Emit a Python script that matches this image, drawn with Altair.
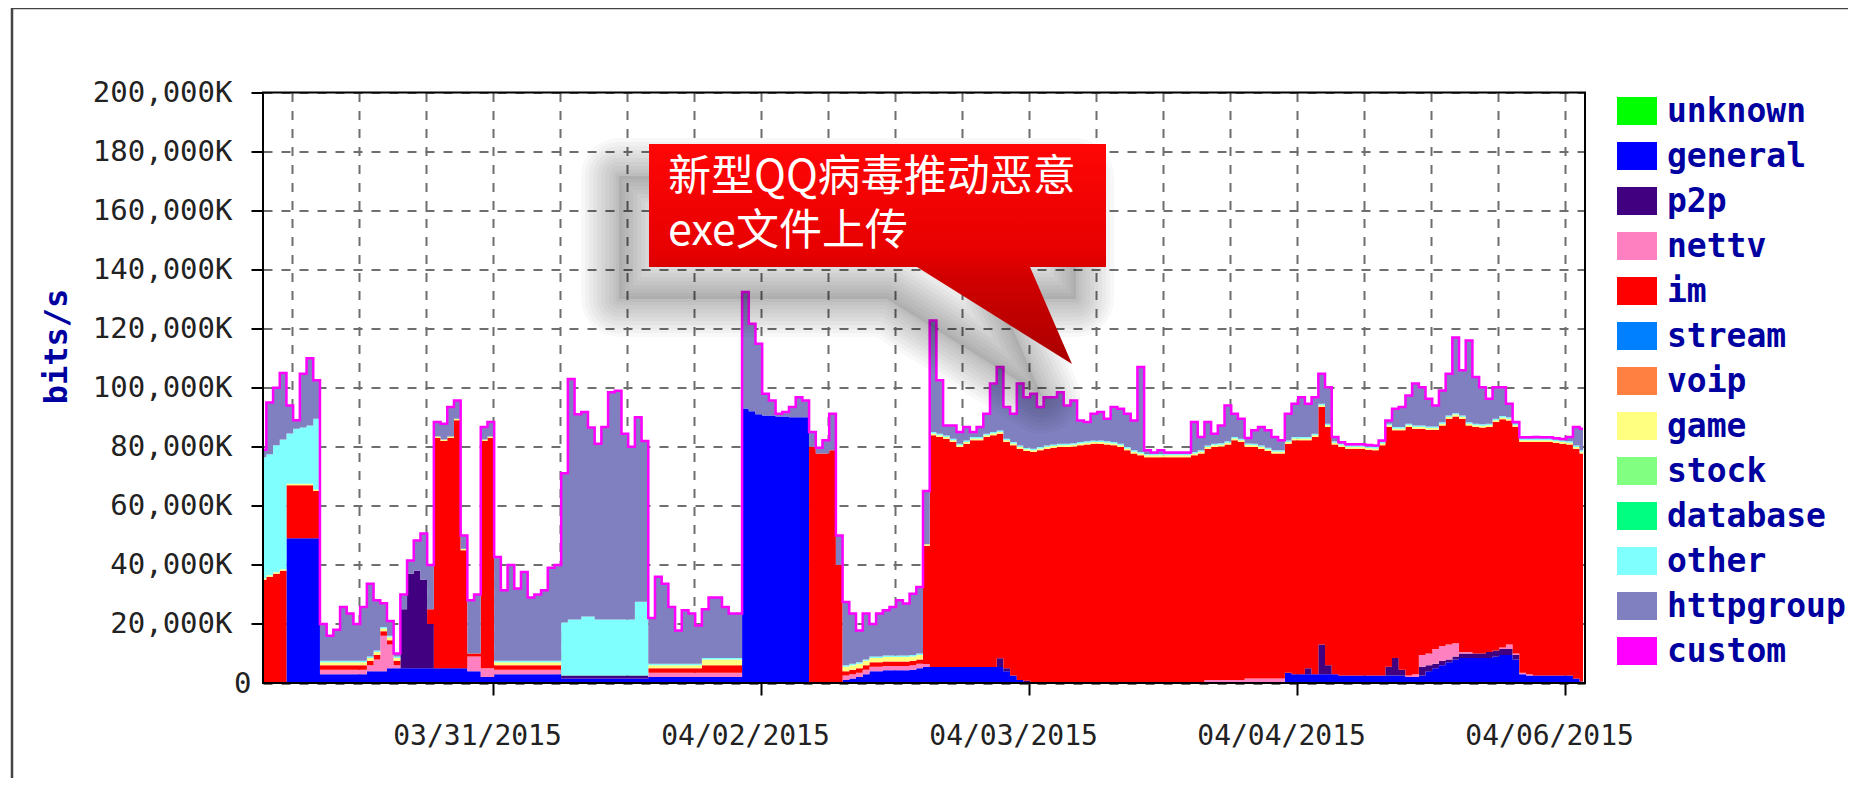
import altair as alt
import pandas as pd

# ---------------------------------------------------------------------------
# Data. Values are in units of 1,000K bits/s
# (the axis label "20,000K" corresponds to 20). One sample every 0.1 of a
# vertical-grid interval, 198 samples across the plot.
# ---------------------------------------------------------------------------
N_SAMPLES = 198
SAMPLE_STEP = 0.1

series_names = ["unknown", "general", "p2p", "nettv", "im", "stream", "voip",
                "game", "stock", "database", "other", "httpgroup", "custom"]
series_colors = ["#00ff00", "#0000ff", "#40007f", "#ff80c0", "#ff0000", "#0080ff",
                 "#ff8040", "#ffff80", "#80ff80", "#00ff80", "#80ffff", "#8080c0",
                 "#ff00ff"]

general = [
    0, 0, 0, 0, 49, 49, 49, 49, 49, 3,
    3, 3, 3, 3, 3, 3, 4, 4, 4, 5,
    5, 5, 5, 5, 5, 5, 5, 5, 5, 5,
    5, 4, 4, 2, 2, 3, 3, 3, 3, 3,
    3, 3, 3, 3, 3, 1.5, 1.5, 1.5, 1.5, 1.5,
    1.5, 1.5, 1.5, 1.5, 1.5, 1.5, 1.5, 1.5, 2, 2,
    2, 2, 2, 2, 2, 2, 2, 2, 2, 2,
    2, 2, 93, 92, 91, 90.6, 90.6, 90.3, 90.3, 90,
    90, 90, 0, 0, 0, 0, 0, 1, 1.5, 2,
    3, 4, 4, 4.3, 4.3, 4.3, 4.3, 4.5, 5, 5.4,
    5.4, 5.4, 5.4, 5.4, 5.4, 5.4, 5.4, 5.4, 5.4, 5.4,
    5.4, 4, 2.5, 1, 0.3, 0, 0, 0, 0, 0,
    0, 0, 0, 0, 0, 0, 0, 0, 0, 0,
    0, 0, 0, 0, 0, 0, 0, 0, 0, 0,
    0, 0, 0, 0, 0, 0, 0, 0, 0, 0,
    0, 0, 0, 3.5, 3, 3, 3, 3, 3, 3,
    3, 2.5, 2.5, 2.5, 2.5, 2.5, 2.5, 2.5, 2.5, 2.5,
    2.5, 2, 2, 2.5, 4, 5, 6, 7, 8, 8.5,
    8.5, 8.5, 8.5, 8.5, 9, 9.5, 9.5, 8, 3, 2.5,
    2.5, 2.5, 2.5, 2.5, 2.5, 2.5, 1.5, 0.5,
]

p2p = [
    0, 0, 0, 0, 0, 0, 0, 0, 0, 0,
    0, 0, 0, 0, 0, 0, 0, 0, 0, 0,
    0, 20, 32, 33, 30, 15, 0, 0, 0, 0,
    0, 0, 0, 0, 0, 0, 0, 0, 0, 0,
    0, 0, 0, 0, 0, 1, 1, 1, 1, 1,
    1, 1, 1, 1, 1, 1, 1, 1, 0, 0,
    0, 0, 0, 0, 0, 0, 0, 0, 0, 0,
    0, 0, 0, 0, 0, 0, 0, 0, 0, 0,
    0, 0, 0, 0, 0, 0, 0, 0, 0, 0,
    0, 0, 0, 0, 0, 0, 0, 0, 0, 0,
    0, 0, 0, 0, 0, 0, 0, 0, 0, 0,
    3, 1, 0, 0, 0.5, 0, 0, 0, 0, 0,
    0, 0, 0, 0, 0, 0, 0, 0, 0, 0,
    0, 0, 0, 0, 0, 0, 0, 0, 0, 0,
    0, 0, 0, 0, 0, 0, 0, 0, 0, 0,
    0, 0, 0, 0, 0, 0, 2, 0, 10, 3,
    0, 0, 0, 0, 0, 0, 0, 0, 3, 6,
    2, 0, 0, 3, 2, 1.5, 1.5, 1, 1, 1.5,
    1.5, 1.5, 1.5, 2, 2, 2, 2, 1.5, 0, 0,
    0, 0, 0, 0, 0, 0, 0, 0,
]

nettv = [
    0, 0, 0, 0, 0, 0, 0, 0, 0, 1.5,
    1.5, 1.5, 1.5, 1.5, 1.5, 1.5, 2, 4, 12, 8,
    1, 0, 0, 0, 0, 0, 0, 0, 0, 0,
    0, 5, 5, 3, 3, 1.5, 1.5, 1.5, 1.5, 1.5,
    1.5, 1.5, 1.5, 1.5, 1.5, 0, 0, 0, 0, 0,
    0, 0, 0, 0, 0, 0, 0, 0, 1.5, 1.5,
    1.5, 1.5, 1.5, 1.5, 1.5, 1.5, 1.5, 1.5, 1.5, 1.5,
    1.5, 1.5, 0, 0, 0, 0, 0, 0, 0, 0,
    0, 0, 0, 0, 0, 0, 0, 1.5, 1.5, 1.5,
    1.5, 1.5, 1.5, 1.5, 1.5, 1.5, 1.5, 1.5, 1.5, 1,
    0, 0, 0, 0, 0, 0, 0, 0, 0, 0,
    0, 0, 0, 0, 0, 0, 0, 0, 0, 0,
    0, 0, 0, 0, 0, 0, 0, 0, 0, 0,
    0, 0, 0, 0, 0, 0, 0, 0, 0, 0,
    0, 1, 1, 1, 1, 1, 1, 1.5, 1.5, 1.5,
    1.5, 1.5, 1.5, 0, 0, 0, 0, 0, 0, 0,
    0, 0, 0, 0, 0, 0, 0, 0, 0, 0,
    0, 0.5, 1, 4, 4, 5, 5, 5, 4.5, 0.5,
    0.5, 0, 0, 0, 0, 0.5, 1.5, 0.5, 0.5, 0.5,
    0, 0, 0, 0, 0, 0, 0, 0,
]

im = [
    35, 36, 37, 38, 18, 18, 18, 18, 16, 1.5,
    1.5, 1.5, 1.5, 1.5, 1.5, 1.5, 1.5, 1.5, 1.5, 1.5,
    1.5, 0, 0, 0, 0, 5, 78, 77, 78, 84,
    40, 1, 1, 77, 78, 1.5, 1.5, 1.5, 1.5, 1.5,
    1.5, 1.5, 1.5, 1.5, 1.5, 0, 0, 0, 0, 0,
    0, 0, 0, 0, 0, 0, 0, 0, 1.5, 1.5,
    1.5, 1.5, 1.5, 1.5, 1.5, 1.5, 2.5, 2.5, 2.5, 2.5,
    2.5, 2.5, 0, 0, 0, 0, 0, 0, 0, 0,
    0, 0, 80, 77.7, 77.7, 78.8, 40, 1.5, 1.5, 1.5,
    1.5, 1.5, 1.5, 1.5, 1.5, 1.5, 1.5, 1.5, 1.5, 40,
    78.5, 77.9, 77.3, 76.2, 74.5, 75.6, 76.8, 76.8, 77.9, 78.5,
    76, 76.6, 78, 78.3, 77.8, 78.2, 78.8, 79.3, 79.7, 79.9,
    79.9, 80.1, 80.5, 80.8, 81, 81, 80.8, 80.5, 79.9, 78.8,
    77.7, 77.1, 76.5, 76.5, 76.5, 76.5, 76.5, 76.5, 76.5, 77.1,
    77.7, 78.3, 78.9, 79.1, 79.8, 81.2, 80.6, 78.5, 78.4, 77.8,
    77.1, 76.2, 76.2, 77.5, 79.2, 79.2, 77.2, 80.3, 80.5, 80.7,
    77.8, 77.4, 76.8, 76.8, 76.8, 76.5, 76.3, 78, 81.2, 77.1,
    81.1, 84.2, 83.1, 76.6, 75.8, 74.3, 74.7, 76.5, 76.8, 79,
    76.7, 76.7, 76.5, 76.2, 77.4, 77.3, 75.9, 76.7, 78.1, 78.6,
    79.1, 79.1, 79.1, 78.8, 78.5, 78.3, 77.8, 77.2,
]

game = [
    0.5, 0.5, 0.5, 0.5, 0.5, 0.5, 0.5, 0.5, 0.5, 1,
    1, 1, 1, 1, 1, 1, 1, 1, 1, 1,
    1, 0, 0, 0, 0, 0, 0.5, 0.5, 0.5, 0.5,
    0.5, 0, 0, 0.5, 0.5, 1, 1, 1, 1, 1,
    1, 1, 1, 1, 1, 0, 0, 0, 0, 0,
    0, 0, 0, 0, 0, 0, 0, 0, 1, 1,
    1, 1, 1, 1, 1, 1, 2, 2, 2, 2,
    2, 2, 0, 0, 0, 0, 0, 0, 0, 0,
    0, 0, 0, 0, 0, 0, 0, 1.5, 1.5, 1.5,
    1.5, 1.5, 1.5, 1.5, 1.5, 1.5, 1.5, 1.5, 1.5, 0.6,
    0.6, 0.6, 0.6, 0.6, 0.6, 0.6, 0.6, 0.6, 0.6, 0.6,
    0.6, 0.6, 0.6, 0.6, 0.6, 0.6, 0.6, 0.6, 0.6, 0.6,
    0.6, 0.6, 0.6, 0.6, 0.6, 0.6, 0.6, 0.6, 0.6, 0.6,
    0.6, 0.6, 0.6, 0.6, 0.6, 0.6, 0.6, 0.6, 0.6, 0.6,
    0.6, 0.6, 0.6, 0.6, 0.6, 0.6, 0.6, 0.6, 0.6, 0.6,
    0.6, 0.6, 0.6, 0.6, 0.6, 0.6, 0.6, 0.6, 0.6, 0.6,
    0.6, 0.6, 0.6, 0.6, 0.6, 0.6, 0.6, 0.6, 0.6, 0.6,
    0.6, 0.6, 0.6, 0.6, 0.6, 0.6, 0.6, 0.6, 0.6, 0.6,
    0.6, 0.6, 0.6, 0.6, 0.6, 0.6, 0.6, 0.6, 0.6, 0.6,
    0.6, 0.6, 0.6, 0.6, 0.6, 0.6, 0.6, 0.6,
]

other = [
    41, 41, 43, 44, 17, 18.6, 19, 19.7, 24, 0.5,
    0.5, 0.5, 0.5, 0.5, 0.5, 0.5, 0.5, 0.5, 0.5, 0.5,
    0.5, 0, 0, 0, 0, 0, 0, 0, 0, 0,
    0, 0, 0, 0, 0, 0.5, 0.5, 0.5, 0.5, 0.5,
    0.5, 0.5, 0.5, 0.5, 0.5, 18, 19, 19, 20, 20,
    19, 19, 19, 19, 19, 19, 25, 25, 0.5, 0.5,
    0.5, 0.5, 0.5, 0.5, 0.5, 0.5, 0.5, 0.5, 0.5, 0.5,
    0.5, 0.5, 0, 0, 0, 0, 0, 0, 0, 0,
    0, 0, 0, 0, 0, 0, 0, 0.5, 0.5, 0.5,
    0.5, 0.5, 0.5, 0.5, 0.5, 0.5, 0.5, 0.5, 0.5, 0,
    0.5, 0.5, 0.5, 0.5, 0.5, 0.5, 0.5, 0.5, 0.5, 0.5,
    0.5, 0.5, 0.5, 0.5, 0.5, 0.5, 0.5, 0.5, 0.5, 0.5,
    0.5, 0.5, 0.5, 0.5, 0.5, 0.5, 0.5, 0.5, 0.5, 0.5,
    0.5, 0.5, 0.5, 0.5, 0.5, 0.5, 0.5, 0.5, 0.5, 0.5,
    0.5, 0.5, 0.5, 0.5, 0.5, 0.5, 0.5, 0.5, 0.5, 0.5,
    0.5, 0.5, 0.5, 0.5, 0.5, 0.5, 0.5, 0.5, 0.5, 0.5,
    0.5, 0.5, 0.5, 0.5, 0.5, 0.5, 0.5, 0.5, 0.5, 0.5,
    0.5, 0.5, 0.5, 0.5, 0.5, 0.5, 0.5, 0.5, 0.5, 0.5,
    0.5, 0.5, 0.5, 0.5, 0.5, 0.5, 0.5, 0.5, 0.5, 0.5,
    0.5, 0.5, 0.5, 0.5, 0.5, 0.5, 0.5, 0.5,
]

httpgroup = [
    2.5, 17.5, 19.5, 22.5, 9.5, 2.9, 18.2, 22.8, 13, 12.5,
    8.5, 10.5, 18.2, 16, 12.5, 18.2, 24.6, 17, 8, 5,
    1, 5, 4.5, 10.3, 15.6, 15, 4.9, 5.3, 10, 6.2,
    4.5, 18, 20, 4.2, 4.9, 35.2, 23.9, 32.5, 24.5, 30.1,
    21.5, 22.5, 23.9, 31.5, 32.5, 50.5, 81.5, 69.5, 69.3, 64,
    59.5, 65.2, 77, 77.5, 62.9, 58.5, 62.5, 54.5, 15.5, 29.5,
    27.1, 19.2, 11.3, 18.1, 17, 13, 16.5, 20.5, 20.5, 17.2,
    15, 15, 39.4, 29.7, 23.9, 7.4, 5.1, 0.9, 1.5, 3.5,
    6.8, 5.7, 5, 2, 4.5, 12.4, 10, 21.4, 17, 10.8,
    15.5, 11, 14.5, 15.3, 16.4, 18.7, 17.6, 20.7, 22.5, 18,
    37.8, 18.1, 3.4, 4.5, 4, 4.6, 1.7, 3.4, 6.8, 16.4,
    21.5, 10.8, 9.6, 21, 17.1, 18.7, 13.6, 16.4, 16, 17.5,
    13, 14.5, 7.3, 6.5, 9.1, 9.7, 7.6, 11.9, 11.9, 11.3,
    10.1, 28.8, 1.2, 0.5, 1.2, 0.5, 0.5, 0.5, 0.5, 10.2,
    4.5, 8, 3.4, 6, 12.1, 7.9, 6.8, 1.9, 4.6, 6.3,
    5.9, 4.5, 3.4, 9.1, 11.3, 13.5, 11.3, 12.4, 10.1, 12.4,
    1.4, 0.5, 0.5, 0.5, 0.5, 0.5, 0.5, 0.5, 1.1, 6.2,
    6.8, 9.6, 14.2, 13, 9.4, 7.1, 10.8, 14.1, 25.6, 15.3,
    27.7, 15.8, 12.6, 8.5, 10.7, 9.8, 4.6, 0.6, 0.5, 0.5,
    0.6, 0.5, 0.5, 0.5, 0.5, 1.4, 6.3, 7.3,
]

# axis text
y_tick_values = [0, 20, 40, 60, 80, 100, 120, 140, 160, 180, 200]
x_grid_first = 0.433          # first vertical grid line (in grid units)
x_grid_count = 20
date_tick_index = [3, 7, 11, 15, 19]
date_labels = ["03/31/2015", "04/02/2015", "04/03/2015", "04/04/2015", "04/06/2015"]
x_domain_max = 19.73

callout_lines = ["新型QQ病毒推动恶意", "exe文件上传"]

# ---------------------------------------------------------------------------
present = {"general": general, "p2p": p2p, "nettv": nettv, "im": im,
           "game": game, "other": other, "httpgroup": httpgroup}
for _n, _v in present.items():
    if len(_v) != N_SAMPLES:
        raise ValueError(f"{_n} has {len(_v)} values")

rows = []
for name, vals in present.items():
    k = series_names.index(name)
    for i, v in enumerate(vals):
        rows.append({"x": round(i * SAMPLE_STEP, 3), "v": v, "s": name, "k": k})
df = pd.DataFrame(rows)

grid_x = [round(x_grid_first + k, 3) for k in range(x_grid_count)]
kexpr = f"round(datum.value - {x_grid_first})"
label_expr = "''"
for idx, lab in reversed(list(zip(date_tick_index, date_labels))):
    label_expr = f"{kexpr} == {idx} ? '{lab}' : ({label_expr})"
tick_test = f"indexof({date_tick_index}, {kexpr}) >= 0"

GRID_COLOR = "#6e6e6e"
AXIS_FONT = "DejaVu Sans Mono"

x_axis = alt.Axis(
    values=grid_x, title=None, grid=True, gridDash=[9, 9], gridColor=GRID_COLOR,
    gridWidth=2, domain=False, tickSize=12, tickWidth=2, tickColor="#000",
    tickOpacity={"condition": {"test": tick_test, "value": 1}, "value": 0},
    labelExpr=label_expr, labelFont=AXIS_FONT, labelFontSize=28, labelColor="#222",
    labelPadding=27, labelOffset=-16, labelOverlap=False, labelFlush=False,
)
y_axis = alt.Axis(
    values=y_tick_values, title="bits/s", grid=True, gridDash=[9, 9],
    gridColor=GRID_COLOR, gridWidth=2, domain=False, tickSize=12, tickWidth=2,
    tickColor="#000",
    tickOpacity={"condition": {"test": "datum.value == 0", "value": 0}, "value": 1},
    labelExpr="datum.value == 0 ? '0' : format(datum.value * 1000, ',') + 'K'",
    labelFont=AXIS_FONT, labelFontSize=29, labelColor="#222",
    labelPadding={"condition": {"test": "datum.value == 0", "value": 0}, "value": 19},
    titleFont=AXIS_FONT, titleFontSize=32, titleFontWeight="bold", titleColor="#0000a0",
    titleX=-207, titleY=253.5, titleAngle=270, titleAlign="center",
    titleBaseline="middle",
)

x_enc = alt.X("x:Q", scale=alt.Scale(domain=[0, x_domain_max], nice=False, zero=False),
              axis=x_axis)
y_scale = alt.Scale(domain=[0, 200], nice=False)
color_scale = alt.Scale(domain=series_names, range=series_colors)

areas = alt.Chart(df).mark_area(interpolate="step", strokeWidth=0, opacity=1).encode(
    x=x_enc,
    y=alt.Y("v:Q", stack="zero", scale=y_scale, axis=y_axis),
    color=alt.Color("s:N", scale=color_scale, legend=None),
    order=alt.Order("k:Q", sort="ascending"),
)

top_line = alt.Chart(df).transform_aggregate(
    total="sum(v)", groupby=["x"]
).mark_line(interpolate="step", color="#ff00ff", strokeWidth=2.5).encode(
    x=x_enc, y=alt.Y("total:Q", scale=y_scale, axis=y_axis)
)

one = alt.Data(values=[{"a": 1}])
PW, PH = 1322, 590.5

border = alt.Chart(one).mark_rect(fillOpacity=0, stroke="#000", strokeWidth=2).encode(
    x=alt.value(0), x2=alt.value(PW), y=alt.value(0), y2=alt.value(PH))

# ---- legend (drawn as one swatch + one label per series) ----
LEG_X, LEG_Y0, LEG_STEP = 1354, 18.5, 45
legend_layers = []
for j, (nm, col) in enumerate(zip(series_names, series_colors)):
    cy = LEG_Y0 + LEG_STEP * j
    legend_layers.append(
        alt.Chart(one).mark_rect(color=col, strokeWidth=0).encode(
            x=alt.value(LEG_X), x2=alt.value(LEG_X + 40),
            y=alt.value(cy - 14), y2=alt.value(cy + 14)))
    legend_layers.append(
        alt.Chart(one).mark_text(align="left", baseline="middle", font=AXIS_FONT,
                                 fontSize=33, fontWeight="bold", color="#0000a0").encode(
            x=alt.value(LEG_X + 50), y=alt.value(cy + 1), text=alt.value(nm)))

# ---- callout with soft drop shadow ----
callout_path = "M0,0H457V123H381L423,220L268,123H0Z"
CX, CY = 386, 51.5
SX, SY = CX - 30, CY + 32

shadow_layers = []
for sw in [76, 68, 60, 52, 44, 36, 28, 20, 12, 6]:
    shadow_layers.append(
        alt.Chart(one).mark_point(shape=callout_path, size=4, filled=False, stroke="#000",
                                  strokeWidth=sw, strokeOpacity=0.028, strokeJoin="round",
                                  opacity=1)
        .encode(x=alt.value(SX), y=alt.value(SY)))
shadow_layers.append(
    alt.Chart(one).mark_point(shape=callout_path, size=4, filled=True, fill="#000",
                              fillOpacity=0.08, strokeWidth=0, opacity=1)
    .encode(x=alt.value(SX), y=alt.value(SY)))

callout_fill = alt.LinearGradient(
    gradient="linear", x1=0, y1=0, x2=0, y2=1,
    stops=[alt.GradientStop(color="#ff0606", offset=0),
           alt.GradientStop(color="#e60000", offset=0.5),
           alt.GradientStop(color="#d20000", offset=0.6),
           alt.GradientStop(color="#a90000", offset=1)])
callout = alt.Chart(one).mark_point(shape=callout_path, size=4, filled=True,
                                    fill=callout_fill, strokeWidth=0, opacity=1).encode(
    x=alt.value(CX), y=alt.value(CY))

# one multi-line text block
callout_text = alt.Chart(one).mark_text(
    align="left", baseline="top", font="Noto Sans CJK SC", fontSize=43,
    color="#ffffff", lineHeight=54, lineBreak="\n",
).encode(x=alt.value(405), y=alt.value(64), text=alt.value("\n".join(callout_lines)))

frame_left = alt.Chart(one).mark_rule(color="#444", strokeWidth=2.5).encode(
    x=alt.value(-251), y=alt.value(-84.5), y2=alt.value(700))
frame_top = alt.Chart(one).mark_rule(color="#444", strokeWidth=2.5).encode(
    x=alt.value(-251), x2=alt.value(1590), y=alt.value(-84.5))

chart = alt.layer(
    areas, top_line, border, *shadow_layers, callout, callout_text,
    *legend_layers, frame_left, frame_top
).properties(
    width=PW, height=PH,
    autosize=alt.AutoSizeParams(type="none"),
    padding={"left": 255, "top": 84.5, "right": 263, "bottom": 95},
    background="white",
).configure_view(stroke=None)

chart.save("out.html", embed_options={"renderer": "svg", "actions": False})
